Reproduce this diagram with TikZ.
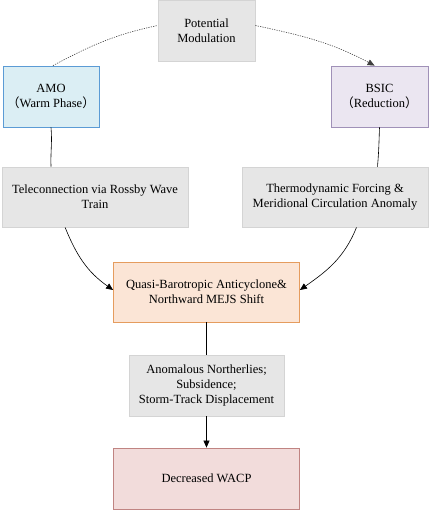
\documentclass[tikz,border=0pt]{standalone}
\usepackage{fontspec}
\setmainfont{Liberation Serif}
\newfontfamily\cjk{Noto Sans CJK SC}
\usetikzlibrary{arrows.meta,calc}
\definecolor{grayfill}{HTML}{E6E6E6}
\definecolor{grayline}{HTML}{D4D4D4}
\definecolor{bluefill}{HTML}{DBEEF4}
\definecolor{blueline}{HTML}{5B9BD5}
\definecolor{purpfill}{HTML}{EBE6F1}
\definecolor{purpline}{HTML}{A091B8}
\definecolor{orfill}{HTML}{FBE5D6}
\definecolor{orline}{HTML}{E59C5E}
\definecolor{redfill}{HTML}{F2DCDB}
\definecolor{redline}{HTML}{C08482}
\tikzset{
  box/.style={draw, line width=0.8pt, align=center, inner sep=2pt,
    font=\fontsize{12.5}{15}\selectfont},
  graybox/.style={box, fill=grayfill, draw=grayline},
  link/.style={draw=black, line width=0.6pt},
  arr/.style={link, -{Triangle[length=7pt,width=6pt]}},
  dots/.style={draw=black!75, line width=0.6pt, dash pattern=on 1.2pt off 1.2pt}
}
\begin{document}
\begin{tikzpicture}[x=1pt,y=-1pt]
\useasboundingbox (0,0) rectangle (430,512);
\node[graybox, minimum width=97pt, minimum height=61pt] (pm) at (206.5,30.5) {Potential\\Modulation};
\node[box, fill=bluefill, draw=blueline, minimum width=96pt, minimum height=61pt] (amo) at (51,96.5) {AMO\\{\cjk （}Warm Phase{\cjk ）}};
\node[box, fill=purpfill, draw=purpline, minimum width=97pt, minimum height=61pt] (bsic) at (379.5,96.5) {BSIC\\{\cjk （}Reduction{\cjk ）}};
\node[graybox, minimum width=186pt, minimum height=60pt] (tele) at (95,197) {Teleconnection via Rossby Wave\\Train};
\node[graybox, minimum width=186pt, minimum height=60pt] (thermo) at (335,197) {Thermodynamic Forcing \&\\Meridional Circulation Anomaly};
\node[box, fill=orfill, draw=orline, minimum width=186pt, minimum height=60pt] (quasi) at (206.5,292) {Quasi-Barotropic Anticyclone\&\\Northward MEJS Shift};
\node[graybox, minimum width=155pt, minimum height=61pt] (anom) at (206.5,385.5) {Anomalous Northerlies;\\Subsidence;\\Storm-Track Displacement};
\node[box, fill=redfill, draw=redline, minimum width=186pt, minimum height=61pt] (dec) at (206.5,478.5) {Decreased WACP};

\coordinate (amotop) at ($(amo.north west)!0.52!(amo.north east)$);
\coordinate (bsictop) at ($(bsic.north west)!0.45!(bsic.north east)$);
\draw[dots] (amotop) to[out=28, in=192] ($(pm.west)+(0,-5)$);
\draw[dots, -{Triangle[length=7pt,width=6pt]}, draw=black!75] ($(pm.east)+(0,-5)$) to[out=-12, in=152] (bsictop);

\draw[link] (amo.south) to[out=-85, in=92] (amo.south |- tele.north);
\draw[link] (bsic.south) to[out=-92, in=85] ($(bsic.south |- thermo.north)+(-2,0)$);

\coordinate (telebot) at ($(tele.south west)!0.34!(tele.south east)$);
\coordinate (thermobot) at ($(thermo.south west)!0.615!(thermo.south east)$);
\draw[arr] (telebot) to[out=-68, in=145] ($(quasi.west)+(0,-2)$);
\draw[arr] (thermobot) to[out=-112, in=35] ($(quasi.east)+(0,-2)$);

\draw[link] (quasi.south) -- (anom.north);
\draw[arr] (anom.south) -- (dec.north);
\end{tikzpicture}
\end{document}
